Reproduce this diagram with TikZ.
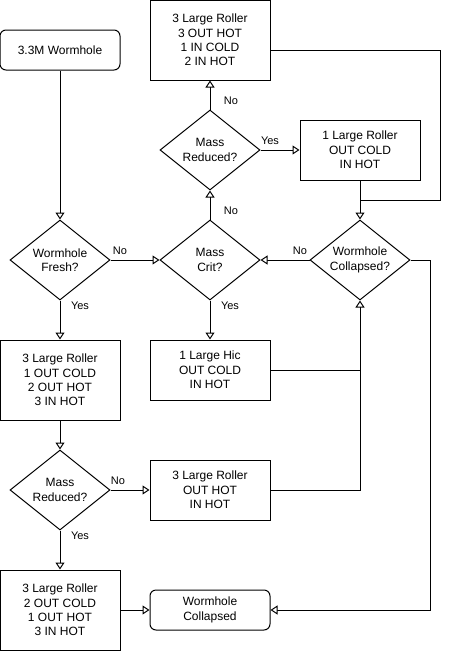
\documentclass[tikz,border=0pt]{standalone}
\usepackage{fontspec}
\setmainfont{Liberation Sans}
\usetikzlibrary{shapes.geometric,arrows.meta}
\begin{document}
\begin{tikzpicture}[x=1pt,y=-1pt,
  every node/.style={font=\fontsize{12}{14.4}\selectfont, align=center, inner sep=0pt},
  procbox/.style={draw, line width=1pt, minimum width=120pt},
  roundbox/.style={draw, line width=1pt, rounded corners=6pt, minimum width=120pt, minimum height=40pt},
  decision/.style={draw, line width=1pt, diamond, minimum width=100pt, minimum height=80pt, aspect=1.25},
  conn/.style={line width=1pt, -{Triangle[open, length=7pt, width=9pt, fill=white]}},
  plain/.style={line width=1pt},
  lbl/.style={font=\fontsize{11}{13}\selectfont}
]
\useasboundingbox (0,0) rectangle (451,651);

\node[roundbox] (start) at (60,50) {3.3M Wormhole};
\node[procbox, minimum height=80pt] (top) at (210,40) {3 Large Roller\\3 OUT HOT\\1 IN COLD\\2 IN HOT};
\node[decision] (mr1) at (210,150) {Mass\\Reduced?};
\node[procbox, minimum height=60pt] (lr1) at (360,150) {1 Large Roller\\OUT COLD\\IN HOT};
\node[decision] (fresh) at (60,260) {Wormhole\\Fresh?};
\node[decision] (crit) at (210,260) {Mass\\Crit?};
\node[decision] (coll) at (360,260) {Wormhole\\Collapsed?};
\node[procbox, minimum height=80pt] (b1) at (60,380) {3 Large Roller\\1 OUT COLD\\2 OUT HOT\\3 IN HOT};
\node[procbox, minimum height=60pt] (hic) at (210,370) {1 Large Hic\\OUT COLD\\IN HOT};
\node[decision] (mr2) at (60,490) {Mass\\Reduced?};
\node[procbox, minimum height=60pt] (b3) at (210,490) {3 Large Roller\\OUT HOT\\IN HOT};
\node[procbox, minimum height=80pt] (b4) at (60,610) {3 Large Roller\\2 OUT COLD\\1 OUT HOT\\3 IN HOT};
\node[roundbox] (end) at (210,610) {Wormhole\\Collapsed};

\coordinate (j1) at (360,200);
\coordinate (j2) at (360,370);
\coordinate (j3) at (360,490);

\draw[conn] (start.south) -- (fresh.north);
\draw[conn] (fresh.east) -- (crit.west);
\draw[conn] (coll.west) -- (crit.east);
\draw[conn] (crit.north) -- (mr1.south);
\draw[conn] (mr1.north) -- (top.south);
\draw[conn] (mr1.east) -- (lr1.west);
\draw[plain] (top.east |- 0,50) -- (440,50) -- (440,200) -- (j1);
\draw[conn] (lr1.south) -- (coll.north);
\draw[conn] (fresh.south) -- (b1.north);
\draw[conn] (crit.south) -- (hic.north);
\draw[plain] (hic.east) -- (j2);
\draw[conn] (b3.east) -- (j3) -- (coll.south);
\draw[conn] (b1.south) -- (mr2.north);
\draw[conn] (mr2.east) -- (b3.west);
\draw[conn] (mr2.south) -- (b4.north);
\draw[conn] (b4.east) -- (end.west);
\draw[conn] (coll.east) -- (430,260) -- (430,610) -- (end.east);

\node[lbl] (l1) at (231,101) {No};
\node[lbl] (l2) at (270,141) {Yes};
\node[lbl] (l3) at (231,211) {No};
\node[lbl] (l4) at (120,251) {No};
\node[lbl] (l5) at (80,306) {Yes};
\node[lbl] (l6) at (230,306) {Yes};
\node[lbl] (l7) at (300,251) {No};
\node[lbl] (l8) at (118,481) {No};
\node[lbl] (l9) at (80,536) {Yes};
\end{tikzpicture}
\end{document}
